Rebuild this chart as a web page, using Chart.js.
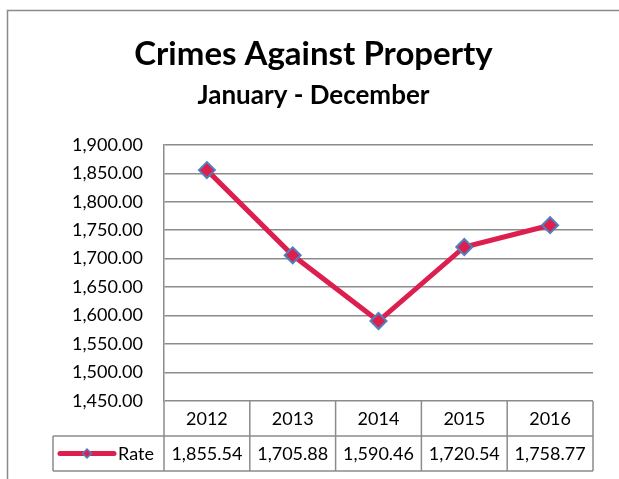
<!DOCTYPE html>
<html>
<head>
<meta charset="utf-8">
<script src="https://cdn.jsdelivr.net/npm/chart.js@4.4.0/dist/chart.umd.min.js"></script>
<style>
  html, body { margin: 0; padding: 0; background: #fff; }
</style>
</head>
<body>
<canvas id="rateChart" width="619" height="479"></canvas>
<script>
// data
const years = ['2012', '2013', '2014', '2015', '2016'];
const rates = [1855.54, 1705.88, 1590.46, 1720.54, 1758.77];
const seriesName = 'Rate';
const yMin = 1450;
const yMax = 1900;
const yStep = 50;

const lineColor = '#DC1F4E';
const markerBorder = '#4F81BD';
const gridColor = '#8c8c8c';
const fontFamily = 'Lato, "Open Sans", sans-serif';

const fmt = v => Number(v).toLocaleString('en-US', { minimumFractionDigits: 2, maximumFractionDigits: 2 });

// frame + Excel style data table under the plot
const dataTable = {
    id: 'dataTable',
    beforeDraw(chart) {
        const ctx = chart.ctx;
        ctx.save();
        ctx.fillStyle = '#fff';
        ctx.fillRect(0, 0, chart.width, chart.height);
        ctx.strokeStyle = '#8a8a8a';
        ctx.lineWidth = 1.5;
        ctx.beginPath();
        ctx.moveTo(7.5, chart.height + 2);
        ctx.lineTo(7.5, 10.5);
        ctx.lineTo(chart.width + 2, 10.5);
        ctx.stroke();
        ctx.restore();
    },
    afterDraw(chart) {
        const { ctx, chartArea, scales } = chart;
        const xs = scales.x;
        const band = (chartArea.right - chartArea.left) / years.length;
        const top = chartArea.bottom;
        const rowH = 35;
        const mid = top + rowH;
        const bottom = mid + rowH;
        const keyLeft = 53;

        ctx.save();
        ctx.strokeStyle = gridColor;
        ctx.lineWidth = 1.5;
        ctx.beginPath();
        // horizontal rules
        ctx.moveTo(keyLeft, mid);
        ctx.lineTo(chartArea.right, mid);
        ctx.moveTo(keyLeft, bottom);
        ctx.lineTo(chartArea.right, bottom);
        ctx.moveTo(keyLeft, mid);
        ctx.lineTo(keyLeft, bottom);
        // column rules
        for (let i = 0; i <= years.length; i++) {
            const bx = chartArea.left + i * band;
            ctx.moveTo(bx, top);
            ctx.lineTo(bx, bottom);
        }
        ctx.stroke();

        ctx.fillStyle = '#000';
        ctx.font = '18px ' + fontFamily;
        ctx.textAlign = 'center';
        ctx.textBaseline = 'middle';
        years.forEach((yr, i) => {
            const cx = xs.getPixelForValue(i);
            ctx.fillText(yr, cx, top + rowH / 2 + 1);
            ctx.fillText(fmt(rates[i]), cx, mid + rowH / 2 + 1);
        });

        // legend key in the first cell
        const ky = mid + rowH / 2;
        ctx.strokeStyle = lineColor;
        ctx.lineWidth = 5;
        ctx.lineCap = 'round';
        ctx.beginPath();
        ctx.moveTo(keyLeft + 7, ky);
        ctx.lineTo(keyLeft + 61, ky);
        ctx.stroke();
        ctx.fillStyle = lineColor;
        ctx.strokeStyle = markerBorder;
        ctx.lineWidth = 1.5;
        Chart.helpers.drawPoint(ctx, { pointStyle: 'rectRot', radius: 4.5, rotation: 0, borderWidth: 1.5 }, keyLeft + 34, ky);
        ctx.fillStyle = '#000';
        ctx.textAlign = 'left';
        ctx.fillText(seriesName, keyLeft + 65, ky + 1);
        ctx.restore();
    }
};

const ctx = document.getElementById('rateChart').getContext('2d');
new Chart(ctx, {
    type: 'line',
    data: {
        labels: years,
        datasets: [{
            label: seriesName,
            data: rates,
            borderColor: lineColor,
            borderWidth: 5,
            tension: 0,
            pointStyle: 'rectRot',
            pointRadius: 8,
            pointBackgroundColor: lineColor,
            pointBorderColor: markerBorder,
            pointBorderWidth: 2,
            clip: false
        }]
    },
    options: {
        responsive: false,
        animation: false,
        layout: { padding: { top: 10, right: 26, bottom: 78, left: 34 } },
        plugins: {
            legend: { display: false },
            tooltip: { enabled: false },
            title: {
                display: true,
                text: 'Crimes Against Property',
                color: '#000',
                font: { family: fontFamily, size: 33, weight: 'bold' },
                padding: { top: 25, bottom: 5 }
            },
            subtitle: {
                display: true,
                text: 'January - December',
                color: '#000',
                font: { family: fontFamily, size: 26, weight: 'bold' },
                padding: { top: 0, bottom: 34 }
            }
        },
        scales: {
            x: { type: 'category', display: false, offset: true },
            y: {
                min: yMin,
                max: yMax,
                ticks: {
                    stepSize: yStep,
                    color: '#000',
                    font: { family: fontFamily, size: 18 },
                    padding: 21,
                    callback: v => fmt(v)
                },
                grid: { color: gridColor, lineWidth: 1.5, drawTicks: false },
                border: { color: gridColor, width: 1.5 },
                afterFit: s => { s.width = 130; }
            }
        }
    },
    plugins: [dataTable]
});
</script>
</body>
</html>
